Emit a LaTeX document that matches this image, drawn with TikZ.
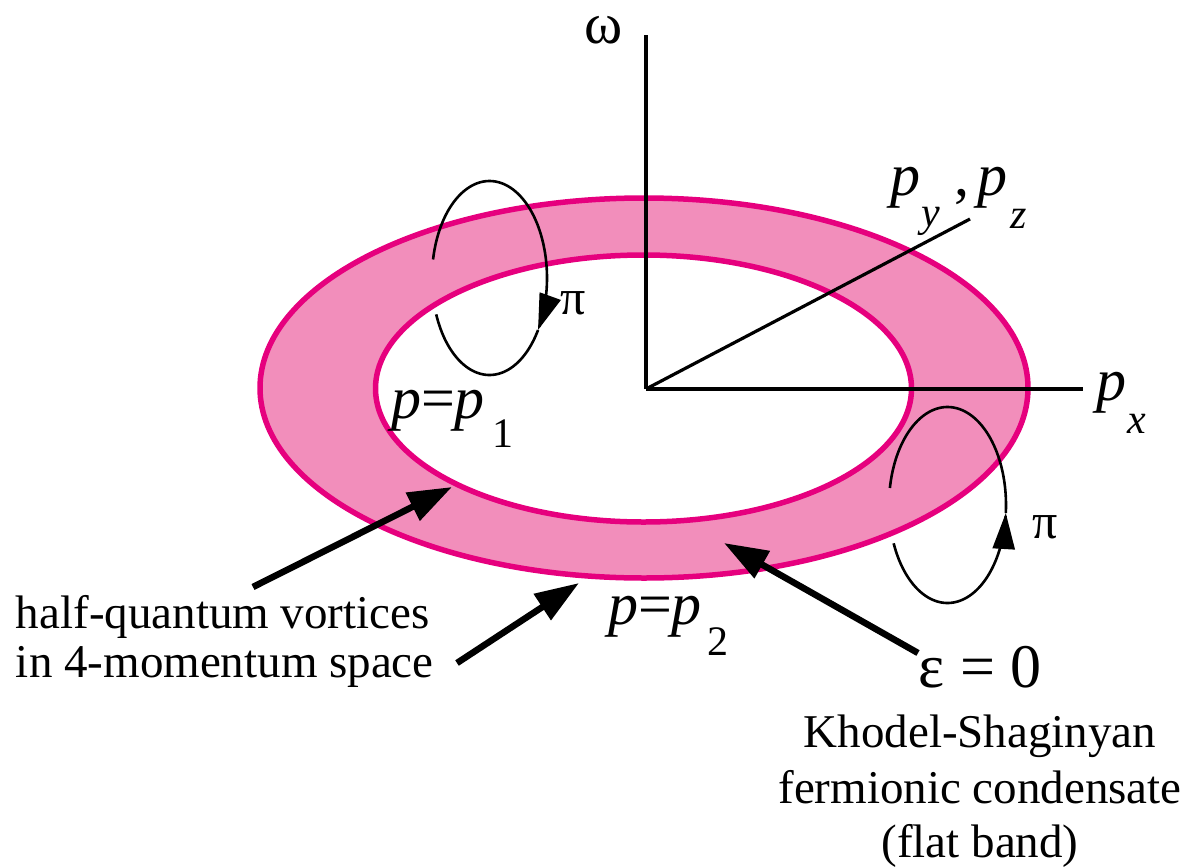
\documentclass[tikz,border=0pt]{standalone}
\usepackage{fontspec}
\setmainfont{Liberation Serif}
\usetikzlibrary{arrows.meta}
\definecolor{ringfill}{HTML}{F28EBB}
\definecolor{ringline}{HTML}{E6007E}
\begin{document}
\begin{tikzpicture}[x=1pt,y=-1pt,
  lbl/.style={inner sep=0pt, outer sep=0pt, anchor=base west},
  ctr/.style={inner sep=0pt, outer sep=0pt, anchor=base},
  axisline/.style={line width=3.2pt},
  ringline/.style={draw=ringline, line width=5.5pt},
  vloop/.style={line width=2.6pt},
  looptip/.style={-{Triangle[length=36pt,width=22pt]}},
  pointer/.style={line width=6.5pt, -{Triangle[length=44pt,width=30pt]}},
  big/.style={font=\fontsize{60}{60}\selectfont},
  sub/.style={font=\fontsize{42}{42}\selectfont},
  txt/.style={font=\fontsize{47}{49}\selectfont},
  pilbl/.style={font=\fontsize{50}{50}\selectfont}
]
\useasboundingbox (0,0) rectangle (1195,868);

% ring
\fill[ringfill, even odd rule] (644,388) ellipse [x radius=384pt, y radius=190pt]
  (643.5,388.5) ellipse [x radius=268pt, y radius=133.5pt];
\draw[ringline] (644,388) ellipse [x radius=384pt, y radius=190pt];
\draw[ringline] (643.5,388.5) ellipse [x radius=268pt, y radius=133.5pt];

% axes
\coordinate (O) at (646,389);
\coordinate (wEnd) at (646,35);
\coordinate (xEnd) at (1083,389);
\coordinate (yzEnd) at (970,219);
\draw[axisline] (O) -- (wEnd);
\draw[axisline] (O) -- (xEnd);
\draw[axisline] (O) -- (yzEnd);

% axis labels
\node[lbl, font=\fontsize{58}{58}\selectfont, text height=28pt, text depth=0pt] (w) at (584,43) {ω};
\node[lbl, big] (px) at (1096,400) {\itshape p};
\node[lbl, sub] (pxs) at (1127,433) {\itshape x};
\node[lbl, big] (py) at (890,195) {\itshape p};
\node[lbl, sub] (pys) at (921,226) {\itshape y};
\node[lbl, big] (comma) at (954,195) {,};
\node[lbl, big] (pz) at (977,195) {\itshape p};
\node[lbl, sub] (pzs) at (1010,228) {\itshape z};

% p = p1, p = p2
\node[lbl, big] (pp1) at (391,418) {{\itshape p}={\itshape p}};
\node[lbl, sub] (pp1s) at (492,447) {1};
\node[lbl, big] (pp2) at (608,624) {{\itshape p}={\itshape p}};
\node[lbl, sub] (pp2s) at (707,655) {2};

% vortex loops
\draw[vloop, looptip] plot[domain=191:392.4, samples=90] ({489.5+57.5*cos(\x)},{278+97*sin(\x)});
\draw[vloop] plot[domain=392.4:518, samples=60] ({489.5+57.5*cos(\x)},{278+97*sin(\x)});
\node[lbl, pilbl] (pi1) at (560,314) {π};

\draw[vloop, looptip] plot[domain=-157:-4.7, samples=90] ({947.5+58.5*cos(-\x)},{505+98*sin(-\x)});
\draw[vloop] plot[domain=-4.7:170, samples=90] ({947.5+58.5*cos(-\x)},{505+98*sin(-\x)});
\node[lbl, pilbl] (pi2) at (1032,538) {π};

% left labels
\node[lbl, txt] (hq1) at (16,628) {half-quantum vortices};
\node[lbl, txt] (hq2) at (16,677) {in 4-momentum space};

% right labels
\node[ctr, font=\fontsize{62}{62}\selectfont] (eps) at (980,687) {ε = 0};
\node[ctr, txt] (ks1) at (980,747) {Khodel-Shaginyan};
\node[ctr, txt] (ks2) at (980,803) {fermionic condensate};
\node[ctr, txt] (ks3) at (980,857) {(flat band)};

% pointers
\coordinate (s1) at (253,587);
\coordinate (t1) at (452,487);
\coordinate (s2) at (457,663);
\coordinate (t2) at (579,583);
\coordinate (s3) at (918,653);
\coordinate (t3) at (724,543);
\draw[pointer] (s1) -- (t1);
\draw[pointer] (s2) -- (t2);
\draw[pointer] (s3) -- (t3);
\end{tikzpicture}
\end{document}
